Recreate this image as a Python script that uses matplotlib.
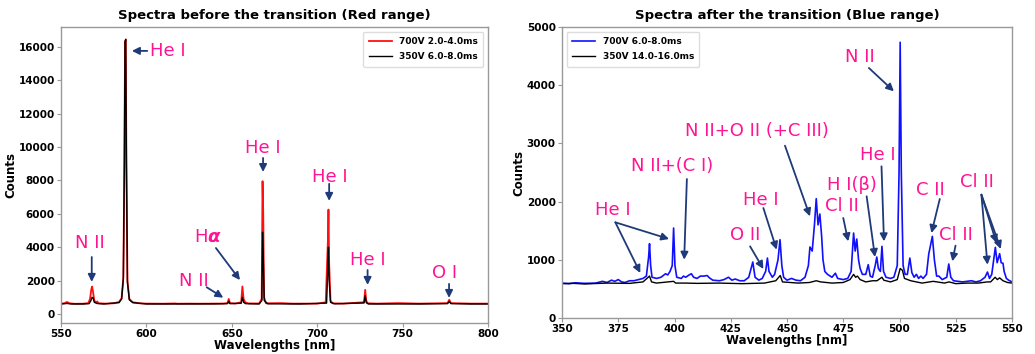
import matplotlib
matplotlib.use("Agg")
import matplotlib.pyplot as plt

# ---------------- data: left panel (red range) ----------------
red_wl = [550, 552, 553.5, 555, 558, 563, 566, 567, 567.7, 568.2, 568.8, 569.5, 570.5, 571.2, 572, 576, 581,
          584, 585.5, 586.5, 587.1, 587.5, 587.9, 588.3, 588.9, 590, 592, 596, 600, 610, 617, 618, 625, 630,
          638, 645, 647.5, 648.2, 648.9, 652, 655.5, 656.2, 656.9, 657.8, 660, 666, 667.5, 668.0, 668.4,
          668.9, 670, 679, 685, 700, 705, 706.3, 706.6, 707.0, 707.8, 709, 715, 727.4, 728.1, 728.7, 729.5,
          735, 747.5, 760, 776.3, 777.3, 778.3, 790, 800]
red_counts = [620, 640, 720, 640, 610, 615, 650, 900, 1450, 1640, 1300, 800, 700, 750, 640, 620, 640,
              720, 950, 2200, 9000, 16300, 16400, 9000, 2000, 900, 700, 640, 620, 615, 630, 615, 620, 615,
              620, 625, 650, 900, 650, 625, 700, 1650, 900, 700, 630, 630, 900, 7950, 6000,
              1000, 640, 650, 620, 620, 700, 4500, 6250, 3000, 800, 640, 620, 700, 1450, 800, 640,
              620, 650, 620, 650, 850, 650, 620, 620]

blk1_wl = [550, 553.5, 556, 563, 566.5, 567.5, 568.2, 568.8, 569.5, 571, 575, 584, 585.5, 586.5, 587.1,
           587.5, 587.9, 588.3, 588.9, 590, 592, 600, 620, 640, 647.5, 648.2, 648.9, 655.5, 656.2, 656.9,
           658, 666, 667.6, 668.0, 668.4, 669, 671, 690, 705.5, 706.3, 706.6, 707.0, 707.8, 710, 727.4,
           728.1, 728.7, 730, 760, 776.3, 777.3, 778.3, 790, 800]
blk1_counts = [600, 630, 600, 600, 620, 800, 1000, 950, 700, 630, 600, 680, 900, 2100, 9000,
               16300, 16450, 9000, 1900, 850, 680, 600, 600, 605, 620, 760, 620, 640, 1000, 700,
               620, 600, 800, 4900, 3500, 800, 610, 600, 650, 3000, 4000, 2000, 700, 610, 660,
               1100, 680, 600, 600, 620, 750, 620, 600, 600]

# ---------------- data: right panel (blue range) ----------------
blue_wl = [350, 353, 356, 360, 365, 368, 370, 372, 373.5, 375, 376.5, 378, 380, 382, 384, 386, 387.5, 388.5,
           388.9, 389.4, 390, 392, 394, 396, 397, 398, 399.0, 399.6, 400.2, 401, 403, 404, 405, 406.5, 407.5,
           408.5, 410, 411.5, 413, 414.5, 415.5, 417, 420, 422, 424, 425.5, 427, 429, 431, 433, 434.8, 435.8,
           437.5, 439, 440.5, 441.3, 442, 443.5, 444.5, 446, 446.9, 447.7, 448.5, 450, 452, 454, 456, 458,
           459.5, 460.2, 461.2, 462.2, 463.0, 463.8, 464.6, 465.4, 466, 466.8, 468, 470, 471.5, 472.5, 475,
           477, 478.5, 479.6, 480.3, 481.0, 481.8, 482.5, 483.5, 485, 486.1, 487, 488, 489.2, 489.9, 490.6,
           491.5, 492.2, 492.9, 494, 496, 497.5, 499, 499.8, 500.3, 500.8, 501.6, 502.5, 503.5, 504.6, 505.5,
           506.5, 507.5, 508.5, 509.5, 510.5, 512, 513, 514.6, 515.5, 516.5, 517.5, 519, 521, 521.9, 522.8,
           524, 528, 532, 534, 536, 538, 539.1, 540, 541, 542.6, 543.4, 544.5, 545.2, 546, 546.5, 547.5,
           548.5, 550]
blue_counts = [600, 590, 605, 595, 600, 630, 610, 650, 630, 660, 620, 610, 640, 640, 660, 680, 720, 1050,
               1277, 900, 700, 680, 700, 760, 740, 800, 900, 1546, 900, 700, 680, 720, 700, 740, 760,
               700, 680, 720, 720, 730, 690, 650, 640, 660, 700, 650, 670, 640, 640, 700, 962, 700,
               650, 680, 800, 1030, 800, 700, 750, 1000, 1346, 900, 700, 650, 680, 650, 640, 700,
               900, 1220, 1150, 1600, 2050, 1600, 1787, 1400, 1000, 800, 750, 700, 770, 680, 660,
               680, 800, 1460, 1150, 1357, 1000, 850, 750, 750, 916, 720, 700, 900, 1048, 850,
               800, 1231, 800, 700, 680, 700, 900, 2500, 4737, 2500, 900, 750, 750, 1030, 780,
               700, 750, 680, 720, 680, 750, 1100, 1403, 1000, 720, 720, 660, 700, 928, 700,
               640, 620, 640, 620, 640, 700, 790, 680, 750, 1214, 950, 1105, 950, 940, 800, 680,
               650, 620]

blk2_wl = [350, 355, 360, 370, 380, 386, 388.9, 389.8, 392, 399.6, 400.5, 405, 410, 420, 430, 440, 445,
           447, 448, 455, 460, 463, 465, 470, 475, 478, 479.6, 480.5, 481.3, 482.5, 485, 488, 490, 492.2,
           493, 496, 499, 500.3, 501.3, 502.2, 505, 510, 515, 520, 522, 525, 530, 535, 539, 540.5, 542.5,
           543.5, 544.5, 546, 548, 550]
blk2_counts = [590, 595, 585, 600, 595, 620, 720, 620, 600, 630, 600, 600, 595, 600, 590, 600, 640,
               730, 620, 600, 610, 640, 620, 600, 610, 660, 750, 700, 720, 660, 620, 640, 640, 700,
               650, 620, 660, 850, 820, 680, 640, 600, 630, 600, 620, 590, 600, 600, 620, 620, 700,
               660, 690, 640, 610, 600]

left_x_ticks = [550, 600, 650, 700, 750, 800]
left_y_ticks = [0, 2000, 4000, 6000, 8000, 10000, 12000, 14000, 16000]
right_x_ticks = [350, 375, 400, 425, 450, 475, 500, 525, 550]
right_y_ticks = [0, 1000, 2000, 3000, 4000, 5000]

PINK = "#FF1493"
NAVY = "#1F3A78"
SPINE = "#999999"

fig = plt.figure(figsize=(10.35, 3.54), dpi=100)
ax1 = fig.add_axes([61 / 1035, 1 - 323 / 354, 427 / 1035, 296 / 354])
ax2 = fig.add_axes([562 / 1035, 1 - 318 / 354, 450 / 1035, 291 / 354])


def style(ax, xt, yt):
    for s in ax.spines.values():
        s.set_color(SPINE)
        s.set_linewidth(1.0)
    ax.set_xticks(xt)
    ax.set_yticks(yt)
    ax.tick_params(axis="both", colors=SPINE, labelcolor="black", labelsize=7.5, length=3, width=0.8, pad=1.5)
    for lab in ax.get_xticklabels() + ax.get_yticklabels():
        lab.set_fontweight("bold")
    ax.set_xlabel("Wavelengths [nm]", fontsize=8.5, fontweight="bold", labelpad=0)
    ax.set_ylabel("Counts", fontsize=8.5, fontweight="bold", labelpad=1)


# left panel
ax1.plot(red_wl, red_counts, color="#FF1010", lw=1.3, label="700V 2.0-4.0ms")
ax1.plot(blk1_wl, blk1_counts, color="black", lw=1.0, label="350V 6.0-8.0ms")
ax1.set_xlim(550, 800)
ax1.set_ylim(-540, 17180)
style(ax1, left_x_ticks, left_y_ticks)
ax1.set_title("Spectra before the transition (Red range)", fontsize=9.5, fontweight="bold", pad=6)
ax1.legend(loc="upper right", prop={"size": 6.5, "weight": "bold"}, handlelength=2.6,
           borderpad=0.6, labelspacing=0.7, framealpha=1, edgecolor="#dddddd")

ap = dict(arrowstyle="-|>", color=NAVY, lw=1.3, mutation_scale=11, shrinkA=0, shrinkB=0)
tk = dict(color=PINK, fontsize=13, ha="center", va="center")


def ann(ax, text, xy_text, xy_tip, start):
    ax.text(xy_text[0], xy_text[1], text, **tk)
    ax.annotate("", xy=xy_tip, xytext=start, arrowprops=ap)


ax1.text(602, 15750, "He I", color=PINK, fontsize=13, ha="left", va="center")
ax1.annotate("", xy=(591.5, 15750), xytext=(600.5, 15750), arrowprops=ap)
ann(ax1, "N II", (566.7, 4250), (568, 1920), start=(568, 3410))
ann(ax1, "He I", (668.3, 9940), (668.3, 8500), start=(668.3, 9340))
ann(ax1, "He I", (707.5, 8200), (707.0, 6770), start=(707.0, 7790))
ann(ax1, "He I", (729.8, 3230), (729.5, 1740), start=(729.5, 2630))
ann(ax1, "O I", (774.8, 2450), (777.2, 960), start=(777.2, 1800))
ann(ax1, r"H$\boldsymbol{\alpha}$", (636, 4610), (654.8, 2030), start=(640.7, 3950))
ann(ax1, "N II", (627.9, 1975), (645.0, 976), start=(635.3, 1600))

# right panel
ax2.plot(blue_wl, blue_counts, color="#1010FF", lw=1.2, label="700V 6.0-8.0ms")
ax2.plot(blk2_wl, blk2_counts, color="black", lw=1.0, label="350V 14.0-16.0ms")
ax2.set_xlim(350, 550)
ax2.set_ylim(0, 5000)
style(ax2, right_x_ticks, right_y_ticks)
ax2.set_title("Spectra after the transition (Blue range)", fontsize=9.5, fontweight="bold", pad=6)
ax2.legend(loc="upper left", prop={"size": 6.5, "weight": "bold"}, handlelength=2.6,
           borderpad=0.6, labelspacing=0.7, framealpha=1, edgecolor="#dddddd")

ax2.text(372.5, 1861, "He I", **tk)
ax2.annotate("", xy=(384.8, 773), xytext=(373.7, 1644), arrowprops=ap)
ax2.annotate("", xy=(397.6, 1357), xytext=(373.7, 1644), arrowprops=ap)
ann(ax2, "N II+(C I)", (398.8, 2606), (404.3, 1002), start=(405.5, 2388))
ann(ax2, "N II+O II (+C III)", (436.5, 3207), (460.2, 1747), start=(449.1, 2961))
ann(ax2, "He I", (438.5, 2033), (445.4, 1174), start=(439.5, 1890))
ann(ax2, "O II", (431.4, 1432), (439.5, 842), start=(433.6, 1231))
ann(ax2, "Cl II", (474.3, 1919), (477.2, 1317), start=(475.0, 1718))
ann(ax2, "H I(β)", (478.7, 2291), (489.1, 1048), start=(485.4, 2091))
ann(ax2, "He I", (490.5, 2807), (493.1, 1317), start=(492.0, 2606))
ann(ax2, "N II", (482.4, 4485), (497.5, 3895), start=(486.4, 4296))
ann(ax2, "C II", (513.9, 2205), (514.2, 1460), start=(517.9, 2045))
ann(ax2, "Cl II", (525.0, 1432), (523.5, 974), start=(524.9, 1243))
ax2.text(534.5, 2331, "Cl II", **tk)
for tip in [(539.1, 916), (543.1, 1289), (545.0, 1186)]:
    ax2.annotate("", xy=tip, xytext=(536.4, 2119), arrowprops=ap)

fig.savefig("out.png", dpi=100)
